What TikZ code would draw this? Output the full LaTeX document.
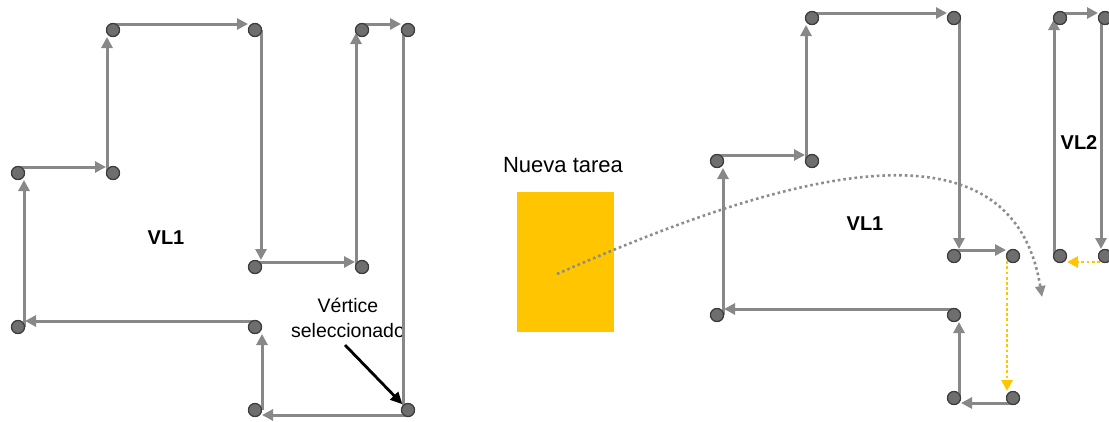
\documentclass[tikz,border=0pt]{standalone}
\usepackage{fontspec}
\setmainfont{Liberation Sans}
\usetikzlibrary{arrows.meta}
\definecolor{VLLine}{HTML}{888888}
\definecolor{VLDot}{HTML}{6E6E6E}
\definecolor{VLRim}{HTML}{3A3A3A}
\definecolor{VLGold}{HTML}{FFC600}
\definecolor{VLTrail}{HTML}{8C8C8C}

\begin{document}
\begin{tikzpicture}[
    x=1pt, y=-1pt,
    vtx/.style={circle, fill=VLDot, draw=VLRim, line width=1.1pt, minimum size=13pt, inner sep=0pt},
    edge/.style={draw=VLLine, line width=3pt, -{Triangle[length=11pt,width=11pt]}, shorten >=7pt},
    move/.style={draw=VLGold, line width=2.8pt, dash pattern=on 2.8pt off 2.4pt, -{Triangle[length=11pt,width=11pt]}, shorten >=7pt},
    trail/.style={draw=VLTrail, line width=2.6pt, dash pattern=on 2.6pt off 3pt, -{Triangle[length=11pt,width=10pt]}},
    pointer/.style={draw=black, line width=2.8pt, -{Triangle[length=12pt,width=11pt]}, shorten >=1pt},
    vlname/.style={font=\fontsize{20}{24}\selectfont\bfseries},
    caption/.style={font=\fontsize{19.5}{25}\selectfont, align=center}
  ]
    \useasboundingbox (0,0) rectangle (1109,421);

    % left: list VL1 before the move
    \node[vtx] (a1) at (113,30) {};
    \node[vtx] (a2) at (255,30) {};
    \node[vtx] (a3) at (362,30) {};
    \node[vtx] (a4) at (408,30) {};
    \node[vtx] (a5) at (18,173) {};
    \node[vtx] (a6) at (113,173) {};
    \node[vtx] (a7) at (255,267) {};
    \node[vtx] (a8) at (362,267) {};
    \node[vtx] (a9) at (18,327) {};
    \node[vtx] (a10) at (255,327) {};
    \node[vtx] (a11) at (255,410) {};
    \node[vtx] (a12) at (408,410) {};

    \node[vlname] (vl1a) at (166,238) {VL1};
    \node[caption] (pick) at (348,318) {Vértice\\seleccionado};
    \coordinate (tail) at (345,345);

    \draw[edge] ([yshift=6pt]a5.center) -- ([yshift=6pt]a6.center);
    \draw[edge] ([xshift=-6pt]a6.center) -- ([xshift=-6pt]a1.center);
    \draw[edge] ([yshift=6pt]a1.center) -- ([yshift=6pt]a2.center);
    \draw[edge] ([xshift=6pt]a2.center) -- ([xshift=6pt]a7.center);
    \draw[edge] ([yshift=5pt]a7.center) -- ([yshift=5pt]a8.center);
    \draw[edge, shorten >=3pt] ([xshift=-6pt]a8.center) -- ([xshift=-6pt]a3.center);
    \draw[edge] ([yshift=6pt]a3.center) -- ([yshift=6pt]a4.center);
    \draw[edge, -, shorten >=0pt] ([xshift=-5pt]a4.center) -- ([shift={(-5pt,-3pt)}]a12.center);
    \draw[edge] ([yshift=-5pt]a12.center) -- ([yshift=-5pt]a11.center);
    \draw[edge] ([xshift=7pt]a11.center) -- ([xshift=7pt]a10.center);
    \draw[edge] ([yshift=6pt]a10.center) -- ([yshift=6pt]a9.center);
    \draw[edge] ([xshift=6pt]a9.center) -- ([xshift=6pt]a5.center);

    \draw[pointer] (tail) -- (a12);

    % right: the new task and lists VL1, VL2 after the move
    \node[fill=VLGold, minimum width=97pt, minimum height=140pt, inner sep=0pt, anchor=north west] (task) at (517,192) {};
    \node[font=\fontsize{22}{26}\selectfont] (tasktitle) at (563,165) {Nueva tarea};

    \node[vtx] (b1) at (812,18) {};
    \node[vtx] (b2) at (954,18) {};
    \node[vtx] (b3) at (717,161) {};
    \node[vtx] (b4) at (812,161) {};
    \node[vtx] (b5) at (954,256) {};
    \node[vtx] (b6) at (1013,256) {};
    \node[vtx] (b7) at (717,315) {};
    \node[vtx] (b8) at (954,315) {};
    \node[vtx] (b9) at (954,398) {};
    \node[vtx] (b10) at (1013,398) {};

    \node[vtx] (c1) at (1060,18) {};
    \node[vtx] (c2) at (1105,18) {};
    \node[vtx] (c3) at (1060,256) {};
    \node[vtx] (c4) at (1105,256) {};

    \node[vlname] (vl1b) at (865,224) {VL1};
    \node[vlname] (vl2) at (1079,143) {VL2};

    \draw[edge] ([yshift=6pt]b3.center) -- ([yshift=6pt]b4.center);
    \draw[edge] ([xshift=-6pt]b4.center) -- ([xshift=-6pt]b1.center);
    \draw[edge] ([yshift=5pt]b1.center) -- ([yshift=5pt]b2.center);
    \draw[edge] ([xshift=5pt]b2.center) -- ([xshift=5pt]b5.center);
    \draw[edge] ([yshift=6pt]b5.center) -- ([yshift=6pt]b6.center);
    \draw[move] ([xshift=-6pt]b6.center) -- ([xshift=-6pt]b10.center);
    \draw[edge] ([yshift=-5pt]b10.center) -- ([yshift=-5pt]b9.center);
    \draw[edge] ([xshift=5pt]b9.center) -- ([xshift=5pt]b8.center);
    \draw[edge] ([yshift=6pt]b8.center) -- ([yshift=6pt]b7.center);
    \draw[edge] ([xshift=6pt]b7.center) -- ([xshift=6pt]b3.center);

    \draw[edge, shorten >=1pt] ([xshift=-6pt]c3.center) -- ([xshift=-6pt]c1.center);
    \draw[edge] ([yshift=5pt]c1.center) -- ([yshift=5pt]c2.center);
    \draw[edge] ([xshift=-4pt]c2.center) -- ([xshift=-4pt]c4.center);
    \draw[move] ([yshift=-6pt]c4.center) -- ([yshift=-6pt]c3.center);

    % path of the new task into the list
    \coordinate (grab) at (557,274);
    \coordinate (drop) at (1042,297);
    \draw[trail] (grab) .. controls (760,185) and (1010,100) .. (drop);

    % dots on top of the lines
    \foreach \v in {a1,a2,a3,a4,a5,a6,a7,a8,a9,a10,a11,a12,b1,b2,b3,b4,b5,b6,b7,b8,b9,b10,c1,c2,c3,c4}
      \node[vtx] at (\v) {};
  \end{tikzpicture}
\end{document}
